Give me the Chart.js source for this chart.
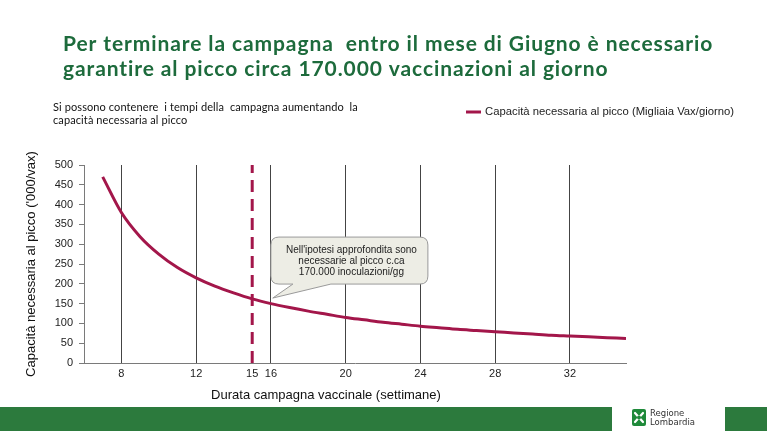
<!DOCTYPE html>
<html><head><meta charset="utf-8">
<script src="https://cdn.jsdelivr.net/npm/chart.js@4/dist/chart.umd.min.js"></script>
<style>html,body{margin:0;padding:0;background:#fff;overflow:hidden}canvas{display:block}</style>
</head><body><canvas id="c" width="767" height="431"></canvas>
<script>
// ---- data ----
const weeks = [7,8,9,10,11,12,13,14,15,16,17,18,19,20,21,22,23,24,25,26,27,28,29,30,31,32,33,34,35];
const capacity = [470,380,319,275,241,215,194,177,162,150,140,131,123,115,109,103,98,93,89,85,82,79,76,73,70,68,66,64,62];
const xTickValues = [8,12,15,16,20,24,28,32];
const yTickValues = [0,50,100,150,200,250,300,350,400,450,500];
const targetWeek = 15;
const seriesLabel = 'Capacità necessaria al picco (Migliaia Vax/giorno)';
const titleLines = ['Per terminare la campagna  entro il mese di Giugno è necessario','garantire al picco circa 170.000 vaccinazioni al giorno'];
const subtitleLines = ['Si possono contenere  i tempi della  campagna aumentando  la','capacità necessaria al picco'];
const calloutLines = ["Nell'ipotesi approfondita sono","necessarie al picco c.ca","170.000 inoculazioni/gg"];
const yAxisTitle = "Capacità necessaria al picco ('000/vax)";
const xAxisTitle = 'Durata campagna vaccinale (settimane)';

const RED = '#a3164a';
const GREEN = '#2c7a3d';

const decor = {
  id: 'decor',
  beforeDraw(chart) {
    const ctx = chart.ctx;
    ctx.save();
    ctx.fillStyle = '#fff';
    ctx.fillRect(0, 0, chart.width, chart.height);
    // title
    ctx.fillStyle = '#1d6b3c';
    ctx.font = 'bold 21px Lato';
    ctx.letterSpacing = '0.9px';
    ctx.textBaseline = 'alphabetic';
    ctx.textAlign = 'left';
    ctx.fillText(titleLines[0], 63, 51);
    ctx.fillText(titleLines[1], 63, 76);
    // subtitle
    ctx.fillStyle = '#111';
    ctx.font = '11px Lato';
    ctx.letterSpacing = '0.1px';
    ctx.fillText(subtitleLines[0], 53, 111);
    ctx.fillText(subtitleLines[1], 53, 124);
    ctx.letterSpacing = '0px';
    // legend
    ctx.strokeStyle = RED;
    ctx.lineWidth = 3;
    ctx.beginPath(); ctx.moveTo(466, 112); ctx.lineTo(481, 112); ctx.stroke();
    ctx.fillStyle = '#222';
    ctx.font = '11.3px "Liberation Sans", Arial';
    ctx.textBaseline = 'middle';
    ctx.fillText(seriesLabel, 485, 112);
    // bottom bars
    ctx.fillStyle = GREEN;
    ctx.fillRect(0, 407, 612, 24);
    ctx.fillRect(725, 407, 42, 24);
    // logo
    ctx.fillStyle = '#1f8a3a';
    roundRect(ctx, 632, 409, 14, 17, 2); ctx.fill();
    ctx.strokeStyle = '#fff'; ctx.lineWidth = 2.2; ctx.lineCap = 'round';
    ctx.beginPath(); ctx.moveTo(635, 413); ctx.lineTo(643, 422); ctx.moveTo(643, 413); ctx.lineTo(635, 422); ctx.stroke();
    ctx.fillStyle = '#1f8a3a';
    ctx.beginPath(); ctx.arc(639, 417.5, 2, 0, Math.PI*2); ctx.fill();
    ctx.fillStyle = '#333';
    ctx.font = '8.5px "DejaVu Sans"';
    ctx.textBaseline = 'alphabetic';
    ctx.fillText('Regione', 650, 416);
    ctx.fillText('Lombardia', 650, 425);
    // x axis title
    ctx.fillStyle = '#111';
    ctx.font = '13px "Liberation Sans", Arial';
    ctx.textAlign = 'center';
    ctx.textBaseline = 'middle';
    ctx.fillText(xAxisTitle, 326, 395);
    ctx.restore();
  },
  afterDatasetsDraw(chart) {
    const ctx = chart.ctx;
    const xs = chart.scales.x, ys = chart.scales.y;
    const bx = xs.getPixelForValue(16.0), by = ys.getPixelForValue(318);
    const bw = 157, bh = 47;
    const tipX = xs.getPixelForValue(16.1), tipY = ys.getPixelForValue(164);
    ctx.save();
    ctx.fillStyle = '#ededE5';
    ctx.strokeStyle = '#9a9a9a';
    ctx.lineWidth = 1;
    const r = 8;
    const x0 = bx, y0 = by, x1 = bx + bw, y1 = by + bh;
    ctx.beginPath();
    ctx.moveTo(x0 + r, y0);
    ctx.lineTo(x1 - r, y0); ctx.quadraticCurveTo(x1, y0, x1, y0 + r);
    ctx.lineTo(x1, y1 - r); ctx.quadraticCurveTo(x1, y1, x1 - r, y1);
    ctx.lineTo(x0 + 60, y1);
    ctx.lineTo(tipX, tipY);
    ctx.lineTo(x0 + 22, y1);
    ctx.lineTo(x0 + r, y1); ctx.quadraticCurveTo(x0, y1, x0, y1 - r);
    ctx.lineTo(x0, y0 + r); ctx.quadraticCurveTo(x0, y0, x0 + r, y0);
    ctx.closePath();
    ctx.fill(); ctx.stroke();
    ctx.fillStyle = '#222';
    ctx.font = '10px "Liberation Sans", Arial';
    ctx.textAlign = 'center'; ctx.textBaseline = 'middle';
    const cx = x0 + bw/2 + 2;
    calloutLines.forEach((t, i) => ctx.fillText(t, cx, y0 + 13 + i*11));
    ctx.restore();
  }
};
function roundRect(ctx, x, y, w, h, r) {
  ctx.beginPath();
  ctx.moveTo(x + r, y); ctx.lineTo(x + w - r, y); ctx.quadraticCurveTo(x + w, y, x + w, y + r);
  ctx.lineTo(x + w, y + h - r); ctx.quadraticCurveTo(x + w, y + h, x + w - r, y + h);
  ctx.lineTo(x + r, y + h); ctx.quadraticCurveTo(x, y + h, x, y + h - r);
  ctx.lineTo(x, y + r); ctx.quadraticCurveTo(x, y, x + r, y); ctx.closePath();
}

new Chart(document.getElementById('c'), {
  type: 'line',
  data: {
    datasets: [
      { label: seriesLabel, data: weeks.map((w, i) => ({x: w, y: capacity[i]})),
        borderColor: RED, borderWidth: 3, pointRadius: 0, tension: 0.4, cubicInterpolationMode: 'monotone', fill: false },
      { label: 'target', data: [{x: targetWeek, y: 0}, {x: targetWeek, y: 500}],
        borderColor: RED, borderWidth: 3, borderDash: [12, 7], pointRadius: 0, fill: false }
    ]
  },
  options: {
    responsive: false, animation: false,
    layout: { padding: { left: 20, right: 141, top: 165, bottom: 24 } },
    plugins: { legend: { display: false }, tooltip: { enabled: false } },
    scales: {
      x: {
        type: 'linear', min: 6, max: 35,
        afterBuildTicks(s) { s.ticks = xTickValues.map(v => ({value: v})); },
        afterFit(s) { s.height = 44; },
        grid: { drawTicks: false, color: ctx => (ctx.tick && ctx.tick.value === targetWeek) ? 'rgba(0,0,0,0)' : '#444', lineWidth: 1 },
        border: { display: true, color: '#7a7a7a', width: 1 },
        ticks: { color: '#222', font: { family: '"Liberation Sans", Arial', size: 11 }, padding: 4, maxRotation: 0, autoSkip: false, callback: v => String(v) }
      },
      y: {
        min: 0, max: 500,
        afterBuildTicks(s) { s.ticks = yTickValues.map(v => ({value: v})); },
        afterFit(s) { s.width = 64; },
        grid: { drawOnChartArea: false, drawTicks: true, tickLength: 5, color: '#7a7a7a' },
        border: { display: true, color: '#7a7a7a', width: 1 },
        ticks: { color: '#222', font: { family: '"Liberation Sans", Arial', size: 11 }, padding: 6 },
        title: { display: true, text: yAxisTitle, color: '#111', font: { family: '"Liberation Sans", Arial', size: 13 }, padding: { top: 4, bottom: 0 } }
      }
    }
  },
  plugins: [decor]
});
</script>
</body></html>
